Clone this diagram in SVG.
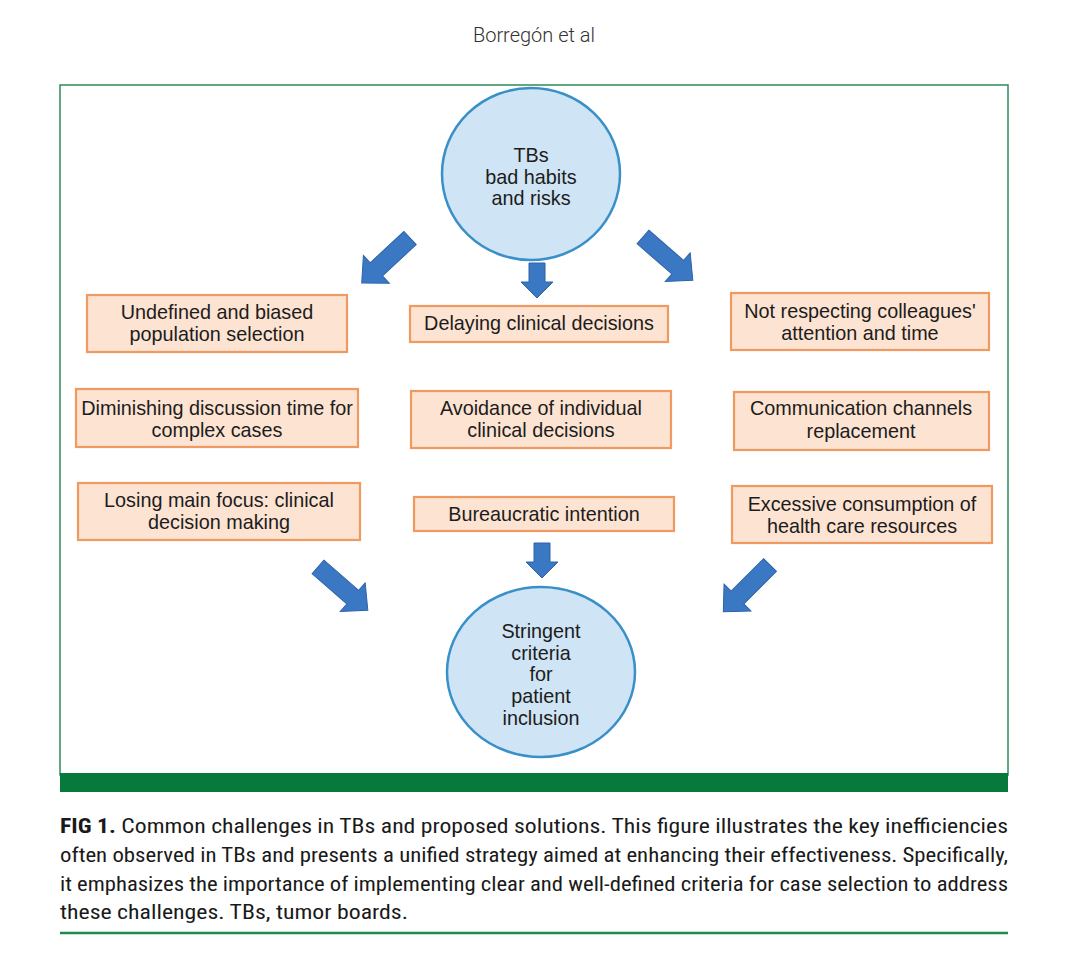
<svg xmlns="http://www.w3.org/2000/svg" width="1068" height="963" viewBox="0 0 1068 963">
<defs>
<style>
.lbl{font-family:"Liberation Sans",Arial,sans-serif;font-size:19.8px;fill:#1c1c1c;text-anchor:middle}
.box{fill:#fce3d2;stroke:#ef9a62;stroke-width:2.2}
.ell{fill:#cfe4f4;stroke:#3990c9;stroke-width:2.5}
.arr{fill:#3b78c4;stroke:#2d62a6;stroke-width:1}
.cap{font-family:"Roboto Condensed","Liberation Sans Narrow",Roboto,sans-serif;font-size:21px;fill:#1a1a1a}
</style>
<path id="diag" d="M0,-9 L46,-9 L46,-19 L66,0 L46,19 L46,9 L0,9 Z"/>
<path id="down" d="M-8,0 L8,0 L8,19 L16,19 L0,35 L-16,19 L-8,19 Z"/>
</defs>
<rect width="1068" height="963" fill="#ffffff"/>
<text x="534" y="42" font-family="Roboto,'Liberation Sans',sans-serif" font-weight="300" font-size="20" fill="#333" text-anchor="middle">Borregón et al</text>
<rect x="60" y="85" width="948" height="690" fill="#ffffff" stroke="#2e8b57" stroke-width="1.5"/>
<rect x="60" y="773" width="948" height="19" fill="#077a3b"/>

<g id="connectors">
<use href="#diag" class="arr" transform="translate(410,238) rotate(137)"/>
<use href="#down" class="arr" transform="translate(537,263)"/>
<use href="#diag" class="arr" transform="translate(643,237) rotate(41)"/>
<use href="#diag" class="arr" transform="translate(318,567) rotate(41)"/>
<use href="#down" class="arr" transform="translate(542,543)"/>
<use href="#diag" class="arr" transform="translate(770,565) rotate(135)"/>
</g>

<g id="top">
<ellipse class="ell" cx="531" cy="174" rx="89" ry="86"/>
<text class="lbl" x="531" y="162">TBs</text>
<text class="lbl" x="531" y="184">bad habits</text>
<text class="lbl" x="531" y="205">and risks</text>
</g>

<g id="l1"><rect class="box" x="87" y="295" width="260" height="57"/>
<text class="lbl" x="217" y="319">Undefined and biased</text>
<text class="lbl" x="217" y="341">population selection</text></g>
<g id="l2"><rect class="box" x="76" y="389" width="282" height="58"/>
<text class="lbl" x="217" y="415">Diminishing discussion time for</text>
<text class="lbl" x="217" y="437">complex cases</text></g>
<g id="l3"><rect class="box" x="78" y="483" width="282" height="57"/>
<text class="lbl" x="219" y="507">Losing main focus: clinical</text>
<text class="lbl" x="219" y="529">decision making</text></g>

<g id="c1"><rect class="box" x="410" y="306" width="258" height="36"/>
<text class="lbl" x="539" y="330">Delaying clinical decisions</text></g>
<g id="c2"><rect class="box" x="411" y="391" width="260" height="57"/>
<text class="lbl" x="541" y="415">Avoidance of individual</text>
<text class="lbl" x="541" y="437">clinical decisions</text></g>
<g id="c3"><rect class="box" x="414" y="497" width="260" height="34"/>
<text class="lbl" x="544" y="521">Bureaucratic intention</text></g>

<g id="r1"><rect class="box" x="731" y="293" width="258" height="57"/>
<text class="lbl" x="860" y="318">Not respecting colleagues'</text>
<text class="lbl" x="860" y="340">attention and time</text></g>
<g id="r2"><rect class="box" x="734" y="392" width="255" height="58"/>
<text class="lbl" x="861" y="415">Communication channels</text>
<text class="lbl" x="861" y="438">replacement</text></g>
<g id="r3"><rect class="box" x="732" y="486" width="260" height="57"/>
<text class="lbl" x="862" y="511">Excessive consumption of</text>
<text class="lbl" x="862" y="533">health care resources</text></g>

<g id="bottom">
<ellipse class="ell" cx="541" cy="672" rx="94" ry="85"/>
<text class="lbl" x="541" y="638">Stringent</text>
<text class="lbl" x="541" y="660">criteria</text>
<text class="lbl" x="541" y="681">for</text>
<text class="lbl" x="541" y="703">patient</text>
<text class="lbl" x="541" y="725">inclusion</text>
</g>

<g id="caption">
<text class="cap" x="60" y="833" textLength="948" lengthAdjust="spacingAndGlyphs"><tspan font-weight="bold">FIG 1.</tspan> Common challenges in TBs and proposed solutions. This figure illustrates the key inefficiencies</text>
<text class="cap" x="60" y="862" textLength="948" lengthAdjust="spacingAndGlyphs">often observed in TBs and presents a unified strategy aimed at enhancing their effectiveness. Specifically,</text>
<text class="cap" x="60" y="891" textLength="948" lengthAdjust="spacingAndGlyphs">it emphasizes the importance of implementing clear and well-defined criteria for case selection to address</text>
<text class="cap" x="60" y="919" textLength="348" lengthAdjust="spacingAndGlyphs">these challenges. TBs, tumor boards.</text>
</g>
<line x1="60" y1="933" x2="1008" y2="933" stroke="#1f8a4c" stroke-width="2.5"/>
</svg>
